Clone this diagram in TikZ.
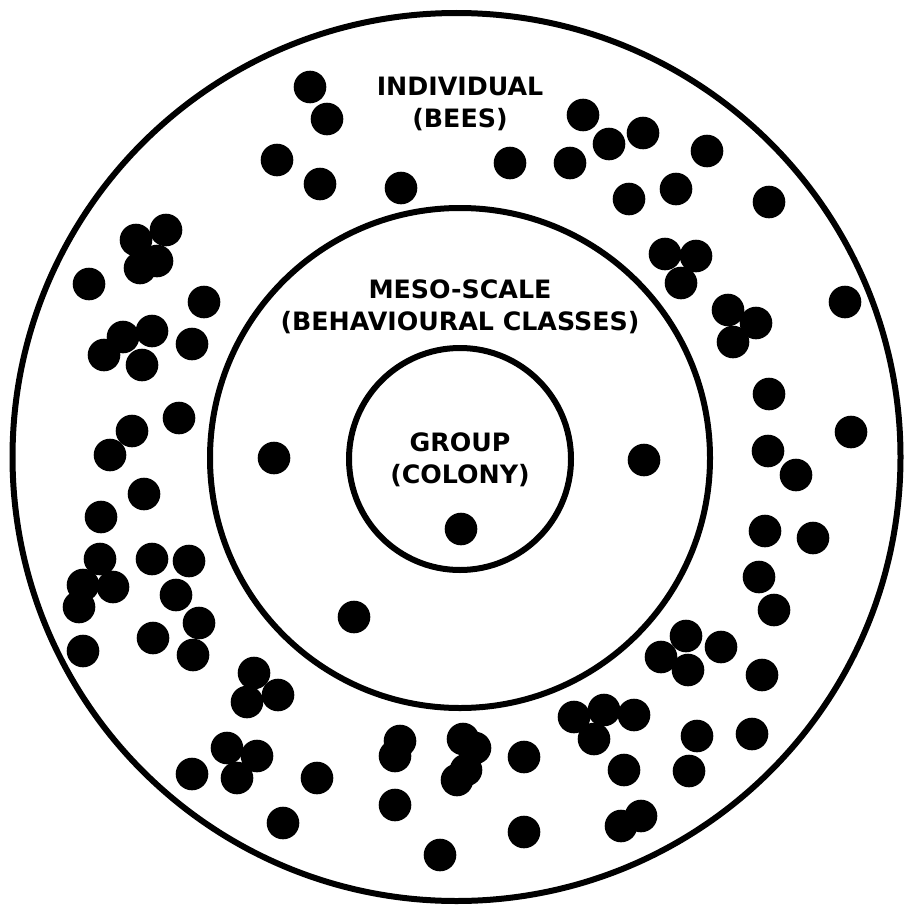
\documentclass[tikz,border=0pt]{standalone}
\usepackage{fontspec}
\setmainfont{DejaVu Sans}
\begin{document}
\begin{tikzpicture}[x=1pt,y=-1pt,
  ring/.style={line width=6pt},
  scaletext/.style={font=\bfseries\fontsize{25.3}{32.5}\selectfont,align=center,inner sep=0pt},
  bee/.style={fill=black}]
\useasboundingbox (0,0) rectangle (903,907);

\draw[ring] (456.5,457) circle[radius=444pt];
\draw[ring] (460,458) circle[radius=250pt];
\draw[ring] (460,459) circle[radius=111pt];

\node[scaletext] (individual) at (460,104) {INDIVIDUAL\\(BEES)};
\node[scaletext] (meso) at (460,307) {MESO-SCALE\\(BEHAVIOURAL CLASSES)};
\node[scaletext] (group) at (460,460) {GROUP\\(COLONY)};

% bees
\foreach \bx/\by in {310/87, 327/119, 277/160, 320/184, 401/188, 510/163,
  570/163, 583/115, 609/144, 643/133, 707/151, 629/199, 676/189, 769/202,
  136/240, 166/230, 157/261, 140/268, 89/284, 204/302, 123/337, 152/331,
  104/355, 142/365, 192/344, 179/418, 132/431, 110/455,
  665/254, 696/256, 681/283, 728/310, 756/323, 733/342, 845/302, 769/394,
  851/432, 768/451, 796/475,
  274/458, 644/460, 354/617, 461/529,
  144/494, 101/517, 100/559, 152/559, 189/561, 83/585, 113/587, 79/607,
  176/595, 199/623, 83/651, 153/638, 193/655,
  254/673, 278/695, 247/702, 227/748, 257/756, 237/778, 192/774, 317/778,
  283/823,
  400/741, 395/756, 395/805, 440/855, 463/739, 475/748, 466/770, 457/780,
  524/757, 524/832,
  574/717, 604/710, 634/715, 594/739, 624/770, 621/826, 641/816, 697/736,
  689/771, 752/734,
  765/531, 813/538, 759/577, 774/610, 686/636, 721/647, 661/657, 688/670,
  762/675}
  \fill[bee] (\bx,\by) circle[radius=16.3pt];
\end{tikzpicture}
\end{document}
